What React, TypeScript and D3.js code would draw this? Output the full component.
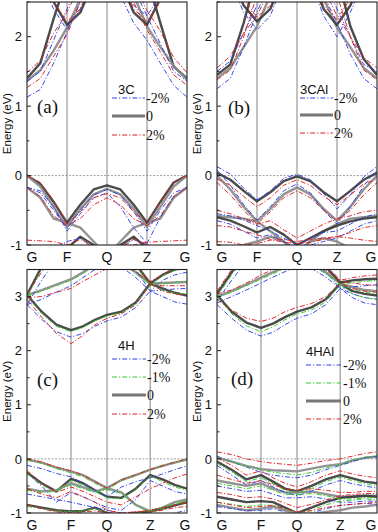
import React from "react";
import * as d3 from "d3";

// k-path nodes (G, F, Q, Z, G) in path units
const CUBIC_NODES = [0, 1, 2, 3, 4];
const HEX_NODES = [0, 1.1, 2.0, 3.08, 4];
const K_LABELS = ["G", "F", "Q", "Z", "G"];
const TICKS_AB = [-1, 0, 1, 2];
const TICKS_CD = [-1, 0, 1, 2, 3];

// ---- Panel (a) 3C ----
const A_0 = [
  [1.40, 1.62, 2.26, 2.85, 3.20, 3.40, 3.50, 3.40, 3.20, 2.85, 2.20, 1.57, 1.40],
  [1.36, 1.52, 1.80, 2.13, 2.55, 3.00, 3.20, 3.00, 2.60, 2.15, 1.85, 1.58, 1.38],
  [3.20, 2.90, 2.50, 2.17, 2.35, 2.80, 3.20, 2.80, 2.35, 2.17, 2.55, 3.00, 3.20],
  [-0.17, -0.32, -0.62, -0.68, -0.75, -0.95, -1.15, -0.95, -0.75, -0.68, -0.62, -0.32, -0.17],
  [0.00, -0.12, -0.38, -0.68, -0.42, -0.20, -0.14, -0.20, -0.42, -0.68, -0.38, -0.10, 0.00],
  [0.00, -0.16, -0.45, -0.74, -0.48, -0.27, -0.19, -0.27, -0.48, -0.74, -0.45, -0.16, 0.00],
  [-1.50, -1.40, -1.20, -1.05, -0.88, -1.00, -1.30, -1.00, -0.88, -1.05, -1.20, -1.40, -1.50],
];
const A_M2 = [
  [1.13, 1.24, 1.62, 2.07, 2.50, 2.90, 3.10, 2.60, 2.20, 1.95, 1.62, 1.30, 1.13],
  [1.36, 1.50, 1.95, 2.40, 2.80, 3.10, 3.30, 3.10, 2.70, 2.30, 1.90, 1.50, 1.36],
  [3.10, 2.80, 2.40, 2.10, 2.40, 2.90, 3.20, 2.70, 2.45, 2.30, 2.60, 3.00, 3.10],
  [-0.17, -0.25, -0.50, -0.76, -0.50, -0.28, -0.20, -0.28, -0.52, -0.80, -0.50, -0.25, -0.17],
  [-0.17, -0.22, -0.45, -0.80, -0.55, -0.32, -0.25, -0.45, -0.75, -0.98, -0.60, -0.30, -0.17],
  [-1.40, -1.25, -1.05, -0.95, -0.90, -1.05, -1.40, -1.05, -0.92, -1.00, -1.15, -1.30, -1.40],
];
const A_P2 = [
  [1.27, 1.40, 1.72, 2.03, 2.50, 2.90, 3.10, 2.90, 2.50, 2.10, 1.78, 1.45, 1.30],
  [1.48, 1.66, 2.05, 2.35, 2.75, 3.10, 3.30, 3.10, 2.75, 2.38, 2.08, 1.70, 1.48],
  [3.20, 2.90, 2.50, 2.22, 2.40, 2.85, 3.20, 2.85, 2.40, 2.22, 2.50, 2.90, 3.20],
  [0.00, -0.10, -0.36, -0.70, -0.52, -0.32, -0.26, -0.32, -0.52, -0.68, -0.38, -0.10, 0.00],
  [-0.17, -0.30, -0.58, -0.72, -0.62, -0.42, -0.32, -0.42, -0.62, -0.72, -0.58, -0.30, -0.17],
  [-0.93, -0.94, -0.95, -1.00, -1.05, -1.10, -1.20, -1.10, -1.00, -0.96, -0.95, -0.94, -0.93],
  [-1.50, -1.35, -1.15, -1.00, -0.92, -1.02, -1.30, -1.02, -0.92, -0.98, -1.10, -1.30, -1.50],
];

// ---- Panel (b) 3CAl ----
const B_0 = [
  [1.45, 1.60, 2.20, 2.90, 3.20, 3.40, 3.50, 3.40, 3.20, 2.90, 2.15, 1.68, 1.45],
  [1.40, 1.55, 1.85, 2.15, 2.60, 3.00, 3.20, 3.00, 2.55, 2.13, 1.85, 1.55, 1.40],
  [3.20, 2.90, 2.45, 2.22, 2.40, 2.85, 3.20, 2.85, 2.40, 2.17, 2.45, 2.90, 3.20],
  [0.00, -0.20, -0.45, -0.66, -0.48, -0.27, -0.17, -0.27, -0.48, -0.65, -0.45, -0.20, 0.00],
  [0.04, -0.06, -0.22, -0.37, -0.24, -0.08, -0.01, -0.08, -0.24, -0.37, -0.22, -0.06, 0.04],
  [-0.58, -0.60, -0.62, -0.66, -0.80, -0.95, -1.10, -0.95, -0.80, -0.70, -0.62, -0.60, -0.58],
  [-0.60, -0.65, -0.73, -0.82, -0.74, -0.85, -1.00, -0.90, -0.80, -0.72, -0.66, -0.62, -0.60],
  [-1.20, -1.10, -1.00, -0.95, -0.88, -0.95, -1.10, -0.95, -0.90, -0.95, -1.05, -1.10, -1.20],
];
const B_M2 = [
  [1.25, 1.40, 1.85, 2.35, 2.80, 3.10, 3.30, 3.00, 2.60, 2.20, 1.75, 1.40, 1.25],
  [1.50, 1.65, 2.05, 2.45, 2.90, 3.20, 3.40, 3.20, 2.80, 2.40, 2.00, 1.60, 1.50],
  [3.10, 2.80, 2.35, 2.10, 2.30, 2.80, 3.10, 2.80, 2.30, 2.00, 2.35, 2.80, 3.10],
  [0.08, -0.14, -0.42, -0.64, -0.45, -0.22, -0.12, -0.25, -0.50, -0.70, -0.45, -0.15, 0.08],
  [0.13, 0.02, -0.18, -0.35, -0.22, -0.04, 0.02, -0.06, -0.26, -0.48, -0.28, -0.02, 0.13],
  [-0.55, -0.58, -0.64, -0.72, -0.80, -0.90, -1.00, -0.90, -0.82, -0.80, -0.70, -0.60, -0.55],
  [-0.65, -0.70, -0.80, -0.90, -0.85, -0.95, -1.05, -1.00, -0.95, -0.90, -0.80, -0.70, -0.65],
];
const B_P2 = [
  [1.38, 1.52, 2.00, 2.60, 3.00, 3.30, 3.40, 3.30, 3.00, 2.60, 2.00, 1.52, 1.38],
  [1.55, 1.72, 2.05, 2.30, 2.70, 3.05, 3.25, 3.05, 2.70, 2.30, 2.00, 1.70, 1.55],
  [3.25, 2.95, 2.55, 2.28, 2.45, 2.90, 3.25, 2.90, 2.45, 2.25, 2.55, 2.95, 3.25],
  [-0.10, -0.28, -0.50, -0.70, -0.52, -0.32, -0.22, -0.32, -0.50, -0.66, -0.50, -0.28, -0.10],
  [-0.05, -0.14, -0.30, -0.45, -0.32, -0.14, -0.06, -0.14, -0.30, -0.42, -0.28, -0.12, -0.05],
  [-0.50, -0.55, -0.62, -0.70, -0.65, -0.78, -0.90, -0.80, -0.70, -0.62, -0.58, -0.52, -0.50],
  [-0.72, -0.74, -0.80, -0.85, -0.92, -0.96, -0.98, -0.96, -0.92, -0.88, -0.82, -0.75, -0.72],
  [-0.95, -0.96, -1.00, -0.98, -0.93, -0.92, -0.95, -0.92, -0.90, -0.88, -0.90, -0.93, -0.95],
];

// ---- Panel (c) 4H ----
const C_0 = [
  [3.03, 2.72, 2.48, 2.38, 2.45, 2.57, 2.66, 2.72, 2.89, 3.24, 3.15, 3.07, 3.02],
  [3.03, 3.12, 3.22, 3.32, 3.45, 3.60, 3.70, 3.65, 3.45, 3.24, 3.25, 3.26, 3.27],
  [3.03, 3.55, 3.90, 4.00, 4.00, 4.00, 4.00, 3.90, 3.60, 3.24, 3.40, 3.50, 3.55],
  [-0.01, -0.07, -0.16, -0.23, -0.30, -0.42, -0.54, -0.39, -0.30, -0.20, -0.13, -0.07, -0.01],
  [-0.25, -0.45, -0.60, -0.37, -0.45, -0.58, -0.70, -0.72, -0.55, -0.30, -0.38, -0.48, -0.55],
  [-0.55, -0.60, -0.58, -0.45, -0.52, -0.60, -0.54, -0.62, -0.85, -0.97, -0.90, -0.80, -0.75],
  [-0.85, -0.90, -0.95, -0.97, -0.96, -0.90, -1.00, -1.05, -1.00, -0.97, -0.92, -0.86, -0.80],
];
const C_M1 = [
  [3.00, 2.69, 2.45, 2.35, 2.43, 2.55, 2.64, 2.70, 2.87, 3.22, 3.12, 3.06, 3.05],
  [3.00, 3.10, 3.20, 3.30, 3.42, 3.58, 3.68, 3.62, 3.42, 3.22, 3.24, 3.26, 3.28],
  [3.00, 3.50, 3.85, 4.00, 4.00, 4.00, 4.00, 3.90, 3.55, 3.22, 3.38, 3.48, 3.52],
  [-0.02, -0.08, -0.18, -0.26, -0.33, -0.45, -0.57, -0.40, -0.30, -0.20, -0.12, -0.06, -0.02],
  [-0.27, -0.48, -0.62, -0.40, -0.48, -0.60, -0.72, -0.74, -0.57, -0.32, -0.42, -0.52, -0.58],
  [-0.58, -0.62, -0.60, -0.48, -0.55, -0.62, -0.57, -0.64, -0.86, -0.98, -0.92, -0.82, -0.78],
  [-0.88, -0.92, -0.96, -0.98, -0.96, -0.92, -1.00, -1.05, -1.00, -0.96, -0.90, -0.84, -0.78],
];
const C_M2 = [
  [2.85, 2.58, 2.35, 2.25, 2.32, 2.45, 2.55, 2.62, 2.80, 3.10, 3.00, 2.90, 2.86],
  [2.85, 2.95, 3.08, 3.20, 3.35, 3.50, 3.62, 3.55, 3.35, 3.10, 3.12, 3.14, 3.15],
  [2.85, 3.30, 3.70, 3.90, 4.00, 4.00, 4.00, 3.85, 3.50, 3.10, 3.30, 3.40, 3.45],
  [-0.12, -0.18, -0.27, -0.33, -0.45, -0.58, -0.70, -0.52, -0.42, -0.35, -0.28, -0.20, -0.13],
  [-0.27, -0.50, -0.80, -0.62, -0.70, -0.80, -0.90, -0.95, -0.75, -0.40, -0.50, -0.60, -0.65],
  [-0.65, -0.70, -0.75, -0.80, -0.85, -0.90, -0.95, -1.00, -1.05, -1.10, -1.05, -1.00, -0.95],
];
const C_P2 = [
  [2.95, 2.62, 2.32, 2.13, 2.28, 2.48, 2.60, 2.68, 2.85, 3.22, 3.20, 3.20, 3.20],
  [2.98, 3.00, 3.08, 3.15, 3.28, 3.40, 3.52, 3.62, 3.45, 3.28, 3.40, 3.55, 3.65],
  [3.05, 3.45, 3.80, 4.00, 4.00, 4.00, 4.00, 3.90, 3.60, 3.25, 3.10, 3.05, 3.02],
  [0.00, -0.06, -0.15, -0.22, -0.30, -0.42, -0.54, -0.39, -0.29, -0.20, -0.13, -0.06, 0.00],
  [-0.22, -0.45, -0.62, -0.52, -0.60, -0.70, -0.80, -0.85, -0.70, -0.55, -0.45, -0.35, -0.28],
  [-0.55, -0.65, -0.72, -0.60, -0.70, -0.80, -0.95, -1.00, -0.98, -0.95, -0.90, -0.85, -0.80],
  [-0.85, -0.92, -0.98, -1.00, -0.98, -0.96, -1.00, -1.00, -0.98, -0.98, -0.95, -0.90, -0.88],
];

// ---- Panel (d) 4HAl ----
const D_0 = [
  [3.03, 2.72, 2.52, 2.42, 2.50, 2.62, 2.72, 2.80, 2.95, 3.24, 3.10, 3.05, 3.02],
  [3.00, 3.10, 3.22, 3.35, 3.45, 3.55, 3.65, 3.60, 3.45, 3.24, 3.18, 3.12, 3.10],
  [3.05, 3.45, 3.80, 4.00, 4.00, 4.00, 4.00, 3.85, 3.55, 3.26, 3.30, 3.32, 3.33],
  [0.02, -0.05, -0.13, -0.19, -0.21, -0.22, -0.23, -0.18, -0.13, -0.10, -0.03, 0.02, 0.04],
  [-0.05, -0.20, -0.38, -0.30, -0.42, -0.55, -0.60, -0.50, -0.38, -0.30, -0.36, -0.42, -0.45],
  [-0.40, -0.45, -0.50, -0.45, -0.55, -0.62, -0.62, -0.60, -0.65, -0.70, -0.70, -0.68, -0.68],
  [-0.70, -0.75, -0.80, -0.78, -0.80, -0.90, -1.00, -0.90, -0.80, -0.72, -0.70, -0.68, -0.70],
  [-0.85, -0.90, -0.95, -0.92, -0.88, -0.95, -1.00, -1.02, -0.98, -0.95, -0.90, -0.88, -0.85],
];
const D_M1 = [
  [3.00, 2.68, 2.46, 2.35, 2.44, 2.57, 2.68, 2.75, 2.90, 3.22, 3.05, 2.98, 2.95],
  [2.98, 3.08, 3.20, 3.32, 3.42, 3.52, 3.62, 3.58, 3.42, 3.22, 3.14, 3.08, 3.05],
  [3.00, 3.40, 3.75, 4.00, 4.00, 4.00, 4.00, 3.80, 3.50, 3.22, 3.26, 3.28, 3.30],
  [0.03, -0.05, -0.14, -0.20, -0.25, -0.27, -0.30, -0.25, -0.17, -0.10, -0.02, 0.03, 0.06],
  [-0.08, -0.24, -0.42, -0.35, -0.46, -0.58, -0.64, -0.55, -0.42, -0.34, -0.40, -0.46, -0.50],
  [-0.45, -0.50, -0.55, -0.50, -0.58, -0.66, -0.66, -0.64, -0.68, -0.74, -0.74, -0.72, -0.72],
  [-0.80, -0.84, -0.88, -0.85, -0.86, -0.92, -1.00, -0.95, -0.85, -0.78, -0.76, -0.74, -0.76],
];
const D_M2 = [
  [2.85, 2.60, 2.38, 2.27, 2.34, 2.48, 2.60, 2.68, 2.85, 3.15, 2.98, 2.88, 2.85],
  [2.88, 3.00, 3.12, 3.25, 3.36, 3.46, 3.56, 3.52, 3.36, 3.15, 3.05, 2.98, 2.95],
  [2.92, 3.30, 3.65, 3.95, 4.00, 4.00, 4.00, 3.75, 3.45, 3.15, 3.18, 3.20, 3.22],
  [0.05, -0.05, -0.15, -0.25, -0.30, -0.33, -0.35, -0.30, -0.20, -0.12, -0.05, 0.02, 0.05],
  [-0.12, -0.30, -0.48, -0.40, -0.52, -0.62, -0.68, -0.60, -0.48, -0.40, -0.46, -0.50, -0.54],
  [-0.50, -0.55, -0.60, -0.58, -0.65, -0.72, -0.72, -0.70, -0.74, -0.80, -0.80, -0.78, -0.78],
  [-0.88, -0.92, -0.96, -0.95, -0.92, -0.98, -1.05, -1.00, -0.92, -0.86, -0.84, -0.82, -0.84],
];
const D_P2 = [
  [2.95, 2.75, 2.60, 2.54, 2.60, 2.72, 2.80, 2.87, 3.00, 3.25, 3.15, 3.10, 3.08],
  [3.05, 3.12, 3.25, 3.40, 3.50, 3.60, 3.70, 3.65, 3.50, 3.28, 3.25, 3.22, 3.20],
  [3.10, 3.50, 3.85, 4.00, 4.00, 4.00, 4.00, 3.90, 3.60, 3.30, 3.35, 3.38, 3.40],
  [0.13, 0.08, 0.00, -0.05, -0.08, -0.10, -0.12, -0.08, -0.03, 0.00, 0.05, 0.10, 0.13],
  [0.02, -0.12, -0.30, -0.22, -0.35, -0.45, -0.52, -0.42, -0.30, -0.22, -0.28, -0.32, -0.35],
  [-0.30, -0.38, -0.45, -0.40, -0.48, -0.55, -0.58, -0.55, -0.58, -0.62, -0.62, -0.60, -0.60],
  [-0.62, -0.66, -0.72, -0.70, -0.74, -0.82, -0.90, -0.84, -0.76, -0.68, -0.66, -0.64, -0.64],
  [-0.80, -0.85, -0.90, -0.88, -0.86, -0.92, -0.98, -0.96, -0.90, -0.86, -0.84, -0.82, -0.80],
];

const STRAIN_STYLE: Record<string, { color: string; width: number; dash?: string }> = {
  "-2%": { color: "#2f3fe6", width: 1, dash: "5,2,1.2,2" },
  "-1%": { color: "#35c92f", width: 1, dash: "5,2,1.2,2" },
  "0": { color: "#555", width: 2.4 },
  "2%": { color: "#dd2020", width: 1, dash: "5,2,1.2,2" },
};

const SANS = "'Liberation Sans', Arial, sans-serif";
const SERIF = "'Liberation Serif', 'Times New Roman', serif";

function kSamples(nodes: number[]) {
  const out: number[] = [];
  for (let s = 0; s < 4; s++) {
    for (let j = 0; j < 3; j++) out.push(nodes[s] + ((nodes[s + 1] - nodes[s]) * j) / 3);
  }
  out.push(nodes[4]);
  return out;
}

type Series = { key: string; bands: number[][] };
type PanelProps = {
  id: string;
  x0: number; x1: number; y0: number; y1: number;
  yDomain: [number, number];
  nodes: number[];
  series: Series[];
  yTicks: number[];
  label: string; labelX: number; labelY: number;
  title: string; titleX: number; titleY: number;
  legendKeys: string[]; legendRows: number[]; legX1: number; legX2: number; legTextX: number;
};

function Panel(p: PanelProps) {
  const xs = d3.scaleLinear().domain([0, 4]).range([p.x0, p.x1]);
  const ys = d3.scaleLinear().domain(p.yDomain).range([p.y1, p.y0]);
  const ks = kSamples(p.nodes);
  const line = d3.line<number>().x((_, i) => xs(ks[i])).y((d) => ys(d));
  const minor = d3.range(Math.ceil(p.yDomain[0] * 2) / 2, p.yDomain[1] + 0.001, 0.5).filter((v) => Math.abs(v - Math.round(v)) > 0.01);
  const clip = `clip-${p.id}`;
  return (
    <g>
      <defs>
        <clipPath id={clip}>
          <rect x={p.x0} y={p.y0} width={p.x1 - p.x0} height={p.y1 - p.y0} />
        </clipPath>
      </defs>
      {p.nodes.slice(1, 4).map((n, i) => (
        <line key={i} x1={xs(n)} x2={xs(n)} y1={p.y0} y2={p.y1} stroke="#999" strokeWidth={1.2} />
      ))}
      <line x1={p.x0} x2={p.x1} y1={ys(0)} y2={ys(0)} stroke="#777" strokeWidth={0.7} strokeDasharray="2,1.5" />
      <g clipPath={`url(#${clip})`}>
        {p.series.map((s) => {
          const st = STRAIN_STYLE[s.key];
          return s.bands.map((b, i) => (
            <path
              key={s.key + i}
              d={line(b) || ""}
              fill="none"
              stroke={s.key === "0" ? (i % 2 === 0 ? "#3c3c3c" : "#8a8a8a") : st.color}
              strokeWidth={st.width}
              strokeDasharray={st.dash}
              strokeLinejoin="round"
              opacity={s.key === "0" ? 0.92 : 0.95}
            />
          ));
        })}
      </g>
      <rect x={p.x0} y={p.y0} width={p.x1 - p.x0} height={p.y1 - p.y0} fill="none" stroke="#222" strokeWidth={1.1} />
      {p.yTicks.map((t) => (
        <g key={t}>
          <line x1={p.x0} x2={p.x0 + 4} y1={ys(t)} y2={ys(t)} stroke="#222" />
          <text x={p.x0 - 5} y={ys(t)} dy="0.36em" textAnchor="end" fontFamily={SANS} fontSize={13} fill="#111">
            {t}
          </text>
        </g>
      ))}
      {minor.map((t) => (
        <line key={"m" + t} x1={p.x0} x2={p.x0 + 2.5} y1={ys(t)} y2={ys(t)} stroke="#222" />
      ))}
      {K_LABELS.map((l, i) => (
        <text
          key={i}
          x={Math.min(xs(p.nodes[i]) + (i === 0 ? 5 : i === 4 ? -2 : 0), 371)}
          y={p.y1 + 17}
          textAnchor="middle"
          fontFamily={SANS}
          fontSize={14}
          fill="#111"
        >
          {l}
        </text>
      ))}
      <text
        transform={`translate(${p.x0 - 16},${(p.y0 + p.y1) / 2})) rotate(-90)`.replace("))", ")")}
        textAnchor="middle"
        fontFamily={SANS}
        fontSize={11.5}
        fill="#111"
      >
        Energy (eV)
      </text>
      <text x={p.labelX} y={p.labelY} fontFamily={SERIF} fontSize={19} fill="#111">
        {p.label}
      </text>
      <text x={p.titleX} y={p.titleY} fontFamily={SANS} fontSize={13} fill="#111">
        {p.title}
      </text>
      {p.legendKeys.map((k, i) => {
        const st = STRAIN_STYLE[k];
        return (
          <g key={k}>
            <line
              x1={p.legX1}
              x2={p.legX2}
              y1={p.legendRows[i]}
              y2={p.legendRows[i]}
              stroke={k === "0" ? "#777" : st.color}
              strokeWidth={k === "0" ? 3 : 1}
              strokeDasharray={st.dash}
            />
            <text x={p.legTextX} y={p.legendRows[i] + 5} fontFamily={SERIF} fontSize={14} fill="#111">
              {k}
            </text>
          </g>
        );
      })}
    </g>
  );
}

export default function App() {
  return (
    <svg width={378} height={532} style={{ position: "absolute", left: 0, top: 0, background: "#fff" }}>
      <rect x={0} y={0} width={378} height={532} fill="#fff" />
      <Panel
        id="a" x0={27} x1={187} y0={2} y1={245} yDomain={[-1, 2.5]} nodes={CUBIC_NODES}
        series={[{ key: "0", bands: A_0 }, { key: "-2%", bands: A_M2 }, { key: "2%", bands: A_P2 }]}
        yTicks={TICKS_AB} label="(a)" labelX={37} labelY={113}
        title="3C" titleX={118} titleY={94}
        legendKeys={["-2%", "0", "2%"]} legendRows={[98, 116, 135]} legX1={112} legX2={145} legTextX={146}
      />
      <Panel
        id="b" x0={217} x1={377} y0={2} y1={245} yDomain={[-1, 2.5]} nodes={CUBIC_NODES}
        series={[{ key: "0", bands: B_0 }, { key: "-2%", bands: B_M2 }, { key: "2%", bands: B_P2 }]}
        yTicks={TICKS_AB} label="(b)" labelX={228} labelY={114}
        title="3CAl" titleX={300} titleY={94}
        legendKeys={["-2%", "0", "2%"]} legendRows={[98, 115, 133]} legX1={300} legX2={333} legTextX={334}
      />
      <Panel
        id="c" x0={27} x1={187} y0={269.5} y1={513} yDomain={[-1, 3.5]} nodes={HEX_NODES}
        series={[{ key: "0", bands: C_0 }, { key: "-2%", bands: C_M2 }, { key: "-1%", bands: C_M1 }, { key: "2%", bands: C_P2 }]}
        yTicks={TICKS_CD} label="(c)" labelX={37} labelY={386}
        title="4H" titleX={118} titleY={350}
        legendKeys={["-2%", "-1%", "0", "2%"]} legendRows={[359, 377, 395, 414]} legX1={112} legX2={146} legTextX={147}
      />
      <Panel
        id="d" x0={217} x1={377} y0={269.5} y1={513} yDomain={[-1, 3.5]} nodes={HEX_NODES}
        series={[{ key: "0", bands: D_0 }, { key: "-2%", bands: D_M2 }, { key: "-1%", bands: D_M1 }, { key: "2%", bands: D_P2 }]}
        yTicks={TICKS_CD} label="(d)" labelX={231} labelY={385}
        title="4HAl" titleX={306} titleY={356}
        legendKeys={["-2%", "-1%", "0", "2%"]} legendRows={[365, 383, 401, 419]} legX1={306} legX2={341} legTextX={343}
      />
    </svg>
  );
}
